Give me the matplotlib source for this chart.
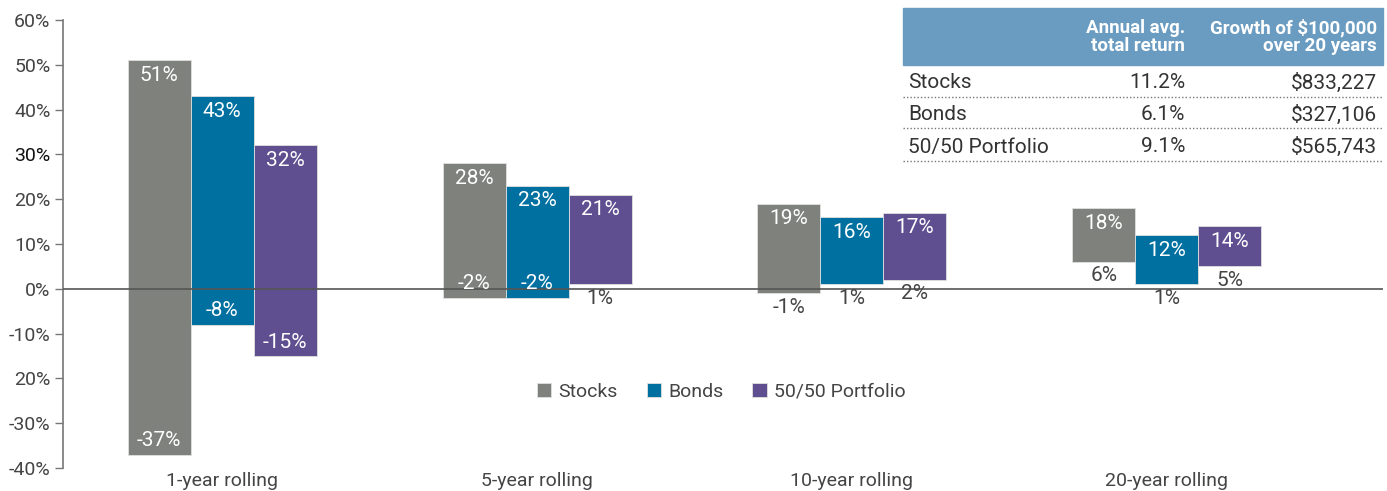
import matplotlib.pyplot as plt
import numpy as np

plt.rcParams['font.family'] = ['Roboto', 'DejaVu Sans']

# Datos del gráfico
periodos = ['1-year rolling', '5-year rolling', '10-year rolling', '20-year rolling']
series = ['Stocks', 'Bonds', '50/50 Portfolio']
colores = ['#7f817c', '#0070a0', '#604f90']

# rango (mínimo, máximo) por serie, en %
stocks_bajo = [-37, -2, -1, 6]
stocks_alto = [51, 28, 19, 18]
bonds_bajo = [-8, -2, 1, 1]
bonds_alto = [43, 23, 16, 12]
port_bajo = [-15, 1, 2, 5]
port_alto = [32, 21, 17, 14]

ticks_y = [60, 50, 40, 30, 20, 10, 0, -10, -20, -30, -40]
etiquetas_y = ['60%', '50%', '40%', '30%', '20%', '10%', '0%', '-10%', '20%', '-30%', '-40%']

# tabla de resumen
tabla_nombres = ['Stocks', 'Bonds', '50/50 Portfolio']
tabla_retorno = ['11.2%', '6.1%', '9.1%']
tabla_crecimiento = ['$833,227', '$327,106', '$565,743']
tabla_encabezados = ['Annual avg.\ntotal return', 'Growth of $100,000\nover 20 years']

W, H = 1387, 491
fig = plt.figure(figsize=(W / 100, H / 100), dpi=100)
ax = fig.add_axes([63 / W, (H - 468) / H, (1383 - 63) / W, (468 - 20) / H])

x = np.arange(len(periodos))
ancho = 0.2
bajos = [stocks_bajo, bonds_bajo, port_bajo]
altos = [stocks_alto, bonds_alto, port_alto]
fs = 14
fs_barras = 15

for i, (nombre, color) in enumerate(zip(series, colores)):
    pos = x + (i - 1) * ancho
    alto = np.array(altos[i])
    bajo = np.array(bajos[i])
    ax.bar(pos, alto - bajo, bottom=bajo, width=ancho, color=color,
           edgecolor='#e0e0e0', linewidth=0.6, label=nombre, zorder=2)
    for p, a, b in zip(pos, alto, bajo):
        ax.annotate(f'{a}%', (p, a), xytext=(0, -15), textcoords='offset pixels',
                    ha='center', va='center', color='white', fontsize=fs_barras, zorder=4)
        if b <= -2:
            ax.annotate(f'{b}%', (p, b), xytext=(0, 14), textcoords='offset pixels',
                        ha='center', va='center', color='white', fontsize=fs_barras, zorder=4)
        else:
            ax.annotate(f'{b}%', (p, b), xytext=(0, -14), textcoords='offset pixels',
                        ha='center', va='center', color='#444444', fontsize=fs_barras, zorder=4)

ax.axhline(0, color='#555555', linewidth=1.2, zorder=3)

ax.set_xlim(-0.505, 3.686)
ax.set_ylim(-40, 60)
ax.set_yticks(ticks_y)
ax.set_yticklabels(etiquetas_y)
ax.set_xticks(x)
ax.set_xticklabels(periodos)
ax.tick_params(axis='x', length=0, pad=3, labelsize=fs, labelcolor='#444444')
ax.tick_params(axis='y', length=6, width=1, color='#777777', pad=3,
               labelsize=fs, labelcolor='#444444')
ax.get_yticklabels()[3].set_color('#111111')
for lado in ['top', 'right', 'bottom']:
    ax.spines[lado].set_visible(False)
ax.spines['left'].set_color('#777777')
ax.spines['left'].set_linewidth(1.2)

ax.legend(loc='center', bbox_to_anchor=(721 / W, (H - 392) / H),
          bbox_transform=fig.transFigure, ncol=3, frameon=False,
          handlelength=0.75, handleheight=0.75, handletextpad=0.35,
          columnspacing=1.5, fontsize=fs, labelcolor='#444444')

# Tabla arriba a la derecha (coordenadas en píxeles de la figura)
def fx(px):
    return px / W

def fy(py):
    return (H - py) / H

fig.patches.append(plt.Rectangle((fx(903), fy(65)), fx(1383) - fx(903), fy(8) - fy(65),
                                 transform=fig.transFigure, color='#6a9bc0', zorder=5))
fig.text(fx(1185), fy(37), tabla_encabezados[0], ha='right', va='center', color='white',
         fontsize=13.5, fontweight='bold', linespacing=1.0, zorder=6)
fig.text(fx(1377), fy(37), tabla_encabezados[1], ha='right', va='center', color='white',
         fontsize=13.5, fontweight='bold', linespacing=1.0, zorder=6)

filas_y = [83, 115, 147]
lineas_y = [97, 128, 161]
for nombre, ret, crec, fy_txt, fy_lin in zip(tabla_nombres, tabla_retorno, tabla_crecimiento,
                                             filas_y, lineas_y):
    fig.text(fx(908), fy(fy_txt), nombre, ha='left', va='center', color='#333333', fontsize=15)
    fig.text(fx(1185), fy(fy_txt), ret, ha='right', va='center', color='#333333', fontsize=15)
    fig.text(fx(1377), fy(fy_txt), crec, ha='right', va='center', color='#333333', fontsize=15)
    for x0, x1 in [(903, 1065), (1067, 1187), (1189, 1383)]:
        fig.add_artist(plt.Line2D([fx(x0), fx(x1)], [fy(fy_lin), fy(fy_lin)],
                                  transform=fig.transFigure, color='#777777',
                                  linestyle=(0, (1, 1.5)), linewidth=1))

fig.savefig('out.png', dpi=100)
